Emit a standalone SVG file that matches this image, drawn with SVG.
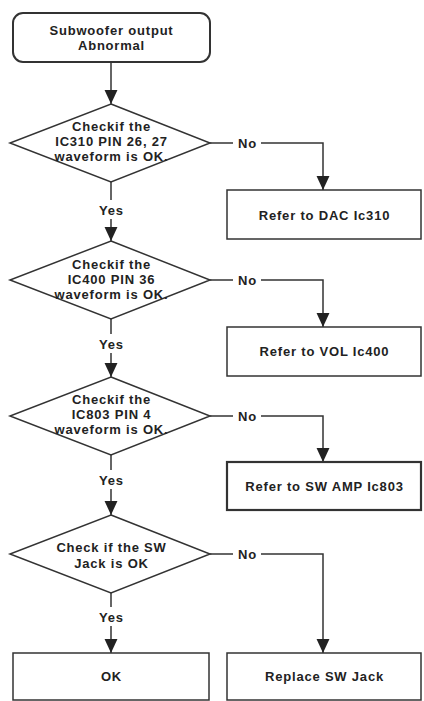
<svg xmlns="http://www.w3.org/2000/svg" width="424" height="701" viewBox="0 0 424 701">
<defs>
<marker id="arr" markerUnits="userSpaceOnUse" markerWidth="14" markerHeight="14" viewBox="0 0 13 12" refX="13" refY="6" orient="auto">
<path d="M0,0 L13,6 L0,12 Z" fill="#222"/>
</marker>
</defs>
<style>
.n{fill:#fff;stroke:#333;stroke-width:1.5}
.t{font-family:"Liberation Sans",Arial,sans-serif;font-weight:bold;font-size:13px;letter-spacing:0.8px;fill:#222;text-anchor:middle}
.c{fill:none;stroke:#333;stroke-width:1.5}
</style>
<rect width="424" height="701" fill="#fff"/>
<g id="connectors">
<line class="c" x1="111" y1="62" x2="111" y2="104" marker-end="url(#arr)"/>
<line class="c" x1="111" y1="182" x2="111" y2="200"/>
<line class="c" x1="111" y1="219" x2="111" y2="241" marker-end="url(#arr)"/>
<line class="c" x1="111" y1="319" x2="111" y2="334"/>
<line class="c" x1="111" y1="353" x2="111" y2="377" marker-end="url(#arr)"/>
<line class="c" x1="111" y1="455" x2="111" y2="470"/>
<line class="c" x1="111" y1="489" x2="111" y2="515" marker-end="url(#arr)"/>
<line class="c" x1="111" y1="593" x2="111" y2="607"/>
<line class="c" x1="111" y1="626" x2="111" y2="653" marker-end="url(#arr)"/>
<line class="c" x1="210" y1="143" x2="233" y2="143"/>
<polyline class="c" points="261,143 323,143 323,190" marker-end="url(#arr)"/>
<line class="c" x1="210" y1="280" x2="233" y2="280"/>
<polyline class="c" points="261,280 323,280 323,327" marker-end="url(#arr)"/>
<line class="c" x1="210" y1="416" x2="233" y2="416"/>
<polyline class="c" points="261,416 323,416 323,462" marker-end="url(#arr)"/>
<line class="c" x1="210" y1="554" x2="233" y2="554"/>
<polyline class="c" points="261,554 323,554 323,653" marker-end="url(#arr)"/>
<text class="t" x="247.5" y="148">No</text>
<text class="t" x="247.5" y="285">No</text>
<text class="t" x="247.5" y="421">No</text>
<text class="t" x="247.5" y="559">No</text>
<text class="t" x="111.5" y="214.5">Yes</text>
<text class="t" x="111.5" y="348.5">Yes</text>
<text class="t" x="111.5" y="484.5">Yes</text>
<text class="t" x="111.5" y="621.5">Yes</text>
</g>
<g id="start">
<rect class="n" x="13" y="13" width="197" height="49" rx="10" style="stroke-width:2"/>
<text class="t" x="111.5" y="35">Subwoofer output</text>
<text class="t" x="111.5" y="50">Abnormal</text>
</g>
<g id="check1">
<polygon class="n" points="111,104 210,143 111,182 10,143"/>
<text class="t" x="111.5" y="131">Checkif the</text>
<text class="t" x="111.5" y="146">IC310 PIN 26, 27</text>
<text class="t" x="111.5" y="161">waveform is OK.</text>
</g>
<g id="dac">
<rect class="n" x="227" y="190" width="194" height="49"/>
<text class="t" x="324.5" y="220">Refer to DAC Ic310</text>
</g>
<g id="check2">
<polygon class="n" points="111,241 210,280 111,319 10,280"/>
<text class="t" x="111.5" y="268.5">Checkif the</text>
<text class="t" x="111.5" y="283.5">IC400 PIN 36</text>
<text class="t" x="111.5" y="298.5">waveform is OK.</text>
</g>
<g id="vol">
<rect class="n" x="227" y="327" width="194" height="49"/>
<text class="t" x="324.5" y="356">Refer to VOL Ic400</text>
</g>
<g id="check3">
<polygon class="n" points="111,377 210,416 111,455 10,416"/>
<text class="t" x="111.5" y="404">Checkif the</text>
<text class="t" x="111.5" y="419">IC803 PIN 4</text>
<text class="t" x="111.5" y="434">waveform is OK.</text>
</g>
<g id="swamp">
<rect class="n" x="227" y="462" width="194" height="48" style="stroke-width:2.2"/>
<text class="t" x="324.5" y="491">Refer to SW AMP Ic803</text>
</g>
<g id="check4">
<polygon class="n" points="111,515 210,554 111,593 10,554"/>
<text class="t" x="111.5" y="552">Check if the SW</text>
<text class="t" x="111.5" y="568">Jack is OK</text>
</g>
<g id="ok">
<rect class="n" x="13" y="653" width="196" height="47"/>
<text class="t" x="111.5" y="681">OK</text>
</g>
<g id="replace">
<rect class="n" x="227" y="653" width="194" height="47"/>
<text class="t" x="324.5" y="681">Replace SW Jack</text>
</g>
</svg>
